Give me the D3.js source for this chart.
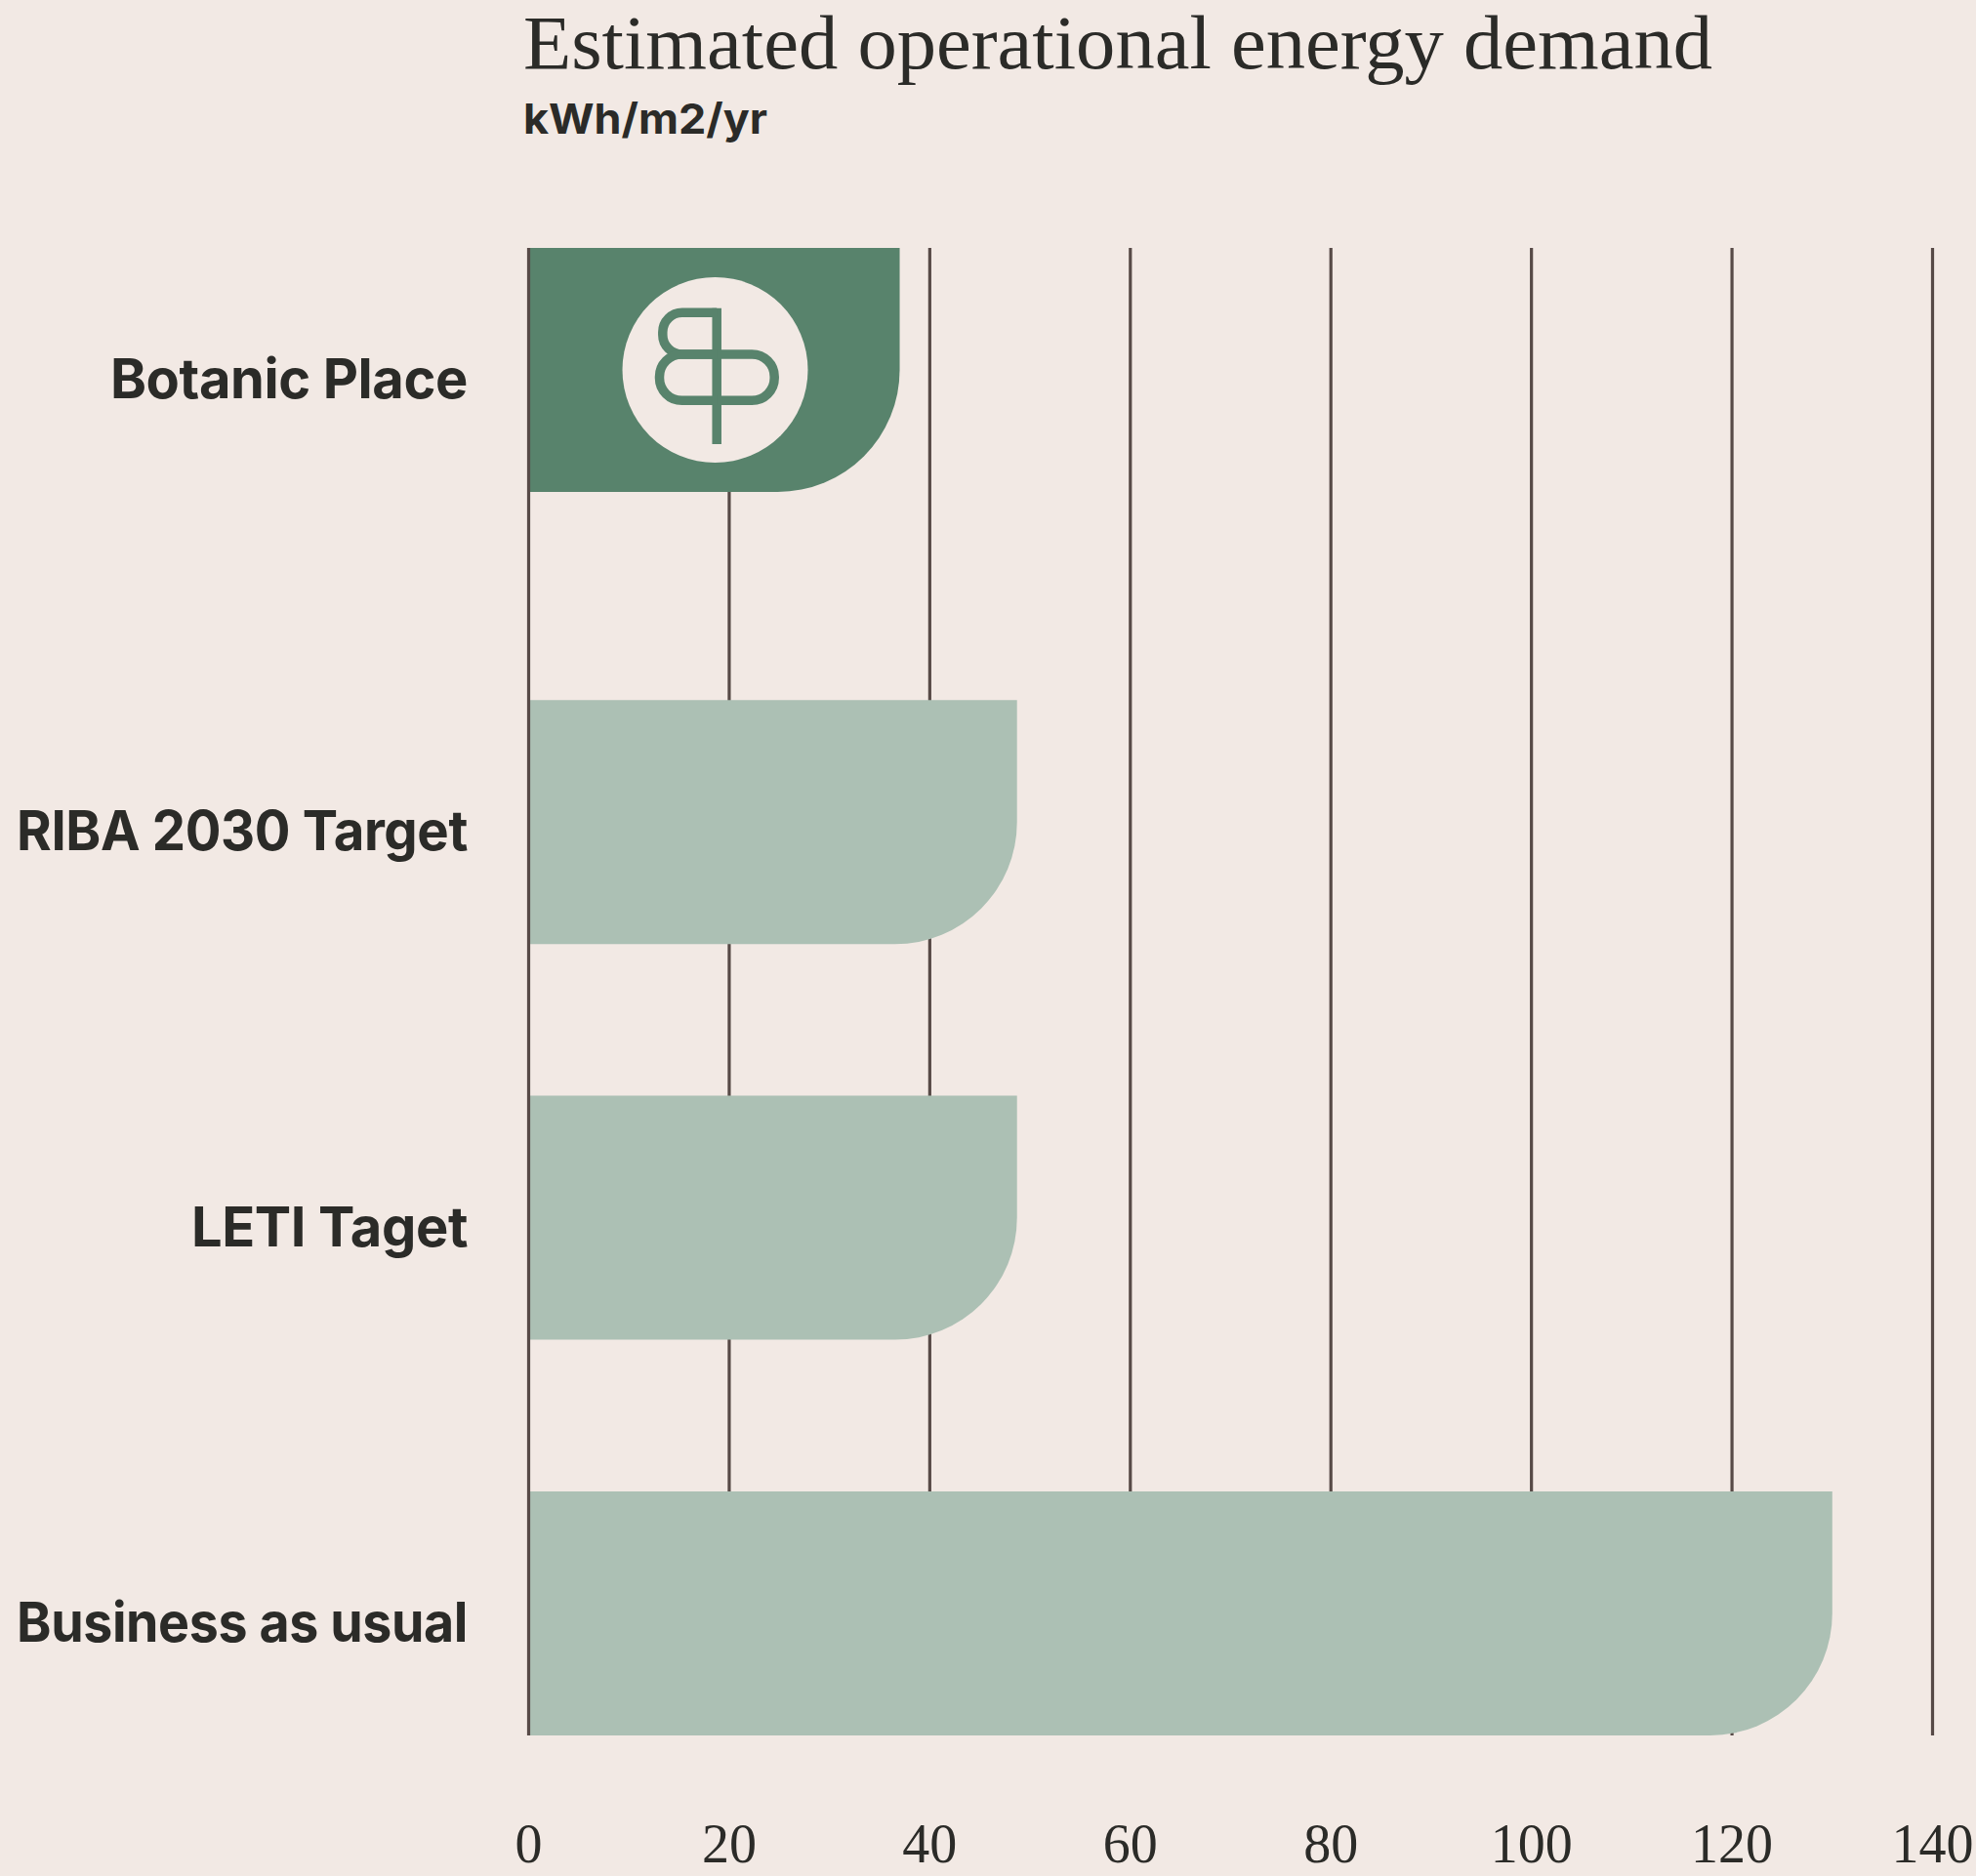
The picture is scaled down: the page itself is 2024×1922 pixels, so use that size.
<!DOCTYPE html>
<html>
<head>
<meta charset="utf-8">
<script src="https://cdn.jsdelivr.net/npm/d3@7"></script>
<style>
  html, body { margin: 0; padding: 0; background: #f2e9e4; }
  svg { display: block; }
</style>
</head>
<body>
<svg id="chart" width="2024" height="1922"></svg>
<script>
// ---- data ----
const categories = ["Botanic Place", "RIBA 2030 Target", "LETI Taget", "Business as usual"];
const values = [37, 48.7, 48.7, 130];
const highlight = [true, false, false, false];
const tickValues = [0, 20, 40, 60, 80, 100, 120, 140];
const titleText = "Estimated operational energy demand";
const unitText = "kWh/m2/yr";

// ---- style ----
const BG = "#f2e9e4", DARK = "#58836c", LIGHT = "#acc0b4", GRID = "#574a47", INK = "#2b2b28";
const SERIF = "'Liberation Serif', 'DejaVu Serif', serif";
const SANS = "Inter, 'Noto Sans', sans-serif";

const svg = d3.select("#chart");
svg.append("rect").attr("width", 2024).attr("height", 1922).attr("fill", BG);

const x = d3.scaleLinear().domain([0, 140]).range([541.5, 1979.5]);
const y = d3.scaleBand().domain(categories).range([312, 312 + 4 * 405.3 - 155.3]).paddingInner(0.3832).paddingOuter(0);
const leadShift = 58; // first (highlighted) row sits a little higher
const rowTop = (d, i) => y(d) - (i === 0 ? leadShift : 0);
const bw = y.bandwidth();

const gridTop = rowTop(categories[0], 0);
const gridBottom = y(categories[categories.length - 1]) + bw;

// gridlines (behind bars)
svg.append("g").selectAll("line").data(tickValues.filter(v => v !== 0)).join("line")
  .attr("x1", d => x(d)).attr("x2", d => x(d))
  .attr("y1", gridTop).attr("y2", gridBottom)
  .attr("stroke", GRID).attr("stroke-width", 3.2);

// bars with rounded bottom-right corner
const rad = bw / 2;
function barPath(v, y0) {
  const x0 = x(0), x1 = x(v), y1 = y0 + bw;
  return `M${x0},${y0}H${x1}V${y1 - rad}A${rad},${rad} 0 0 1 ${x1 - rad},${y1}H${x0}Z`;
}
svg.append("g").selectAll("path").data(categories).join("path")
  .attr("d", (d, i) => barPath(values[i], rowTop(d, i)))
  .attr("fill", (d, i) => highlight[i] ? DARK : LIGHT);

// zero line on top
svg.append("line")
  .attr("x1", x(0)).attr("x2", x(0)).attr("y1", gridTop).attr("y2", gridBottom)
  .attr("stroke", GRID).attr("stroke-width", 3.2);

// logo on highlighted bar
categories.forEach((d, i) => {
  if (!highlight[i]) return;
  const cx = x(0) + 191, cy = rowTop(d, i) + bw / 2;
  const g = svg.append("g").attr("transform", `translate(${cx},${cy})`);
  g.append("circle").attr("r", 95).attr("fill", BG);
  const sw = 9.5;
  const paths = [
    "M1.7,-63.3V76",
    "M1.7,-58.7H-33.7A20,20 0 0 0 -53.7,-38.7V-36A20,20 0 0 0 -33.7,-16H1.7",
    "M1.7,-16H-34A23,23 0 0 0 -57,7V8.3A23,23 0 0 0 -34,31.3H1.7",
    "M1.7,-16H37.7A23,23 0 0 1 60.7,7V8.3A23,23 0 0 1 37.7,31.3H1.7"
  ];
  g.selectAll("path").data(paths).join("path")
    .attr("d", p => p).attr("fill", "none").attr("stroke", DARK).attr("stroke-width", sw);
});

// category labels
const labelRight = 479, labelMaxWidth = 462;
svg.append("g").selectAll("text").data(categories).join("text")
  .attr("x", labelRight).attr("y", (d, i) => rowTop(d, i) + bw / 2 + 29)
  .attr("text-anchor", "end")
  .attr("font-family", SANS).attr("font-weight", 700).attr("font-size", 56)
  .attr("letter-spacing", -0.4)
  .attr("fill", INK).text(d => d)
  .each(function () {
    if (this.getComputedTextLength() > labelMaxWidth) {
      d3.select(this).attr("textLength", labelMaxWidth).attr("lengthAdjust", "spacingAndGlyphs");
    }
  });

// x tick labels
svg.append("g").selectAll("text").data(tickValues).join("text")
  .attr("x", d => x(d)).attr("y", 1908)
  .attr("text-anchor", "middle")
  .attr("font-family", SERIF).attr("font-size", 56)
  .attr("fill", INK).text(d => d);

// title and unit
svg.append("text").attr("x", 536).attr("y", 70)
  .attr("font-family", SERIF).attr("font-size", 78)
  .attr("textLength", 1218).attr("lengthAdjust", "spacingAndGlyphs")
  .attr("fill", INK).text(titleText);
svg.append("text").attr("x", 536).attr("y", 137)
  .attr("font-family", SANS).attr("font-weight", 700).attr("font-size", 43)
  .attr("textLength", 250).attr("lengthAdjust", "spacingAndGlyphs")
  .attr("fill", INK).text(unitText);
</script>
</body>
</html>
